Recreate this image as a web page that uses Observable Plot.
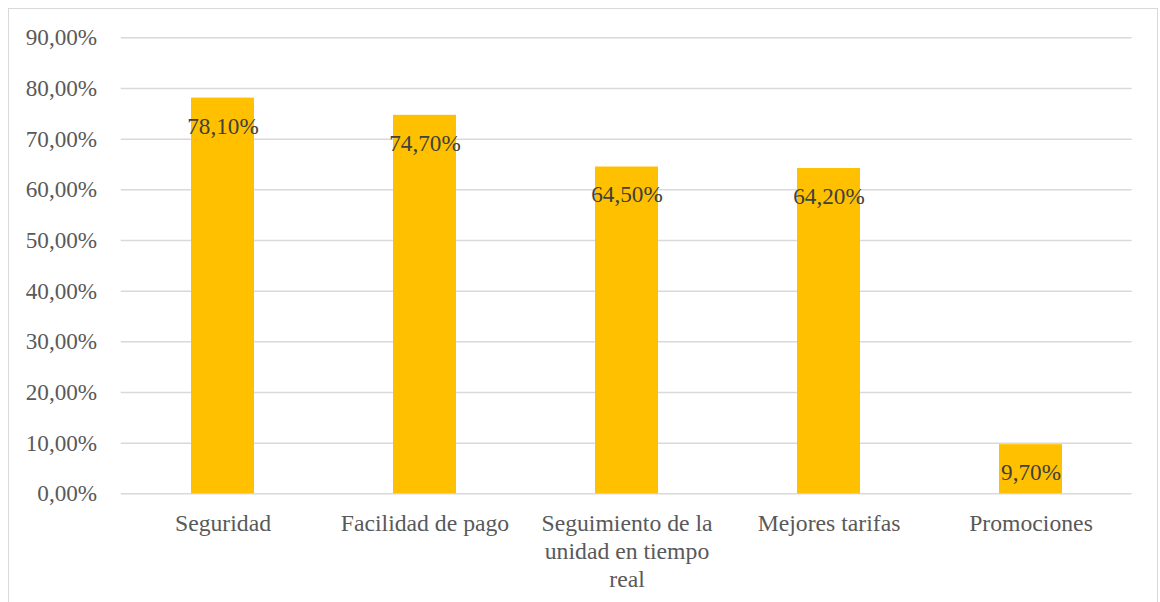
<!DOCTYPE html>
<html>
<head>
<meta charset="utf-8">
<script src="https://cdn.jsdelivr.net/npm/d3@7"></script>
<script src="https://cdn.jsdelivr.net/npm/@observablehq/plot@0.6"></script>
<style>
  html, body { margin: 0; padding: 0; background: #fff; }
  #wrap { position: relative; width: 1160px; height: 602px; overflow: hidden; }
  #border { position: absolute; left: 8px; top: 8px; width: 1150px; height: 620px; border: 1px solid #d9d9d9; box-sizing: border-box; }
  #chart { position: absolute; left: 0; top: 0; }
  #chart svg, #chart svg text { font-family: "Liberation Serif", "Times New Roman", "DejaVu Serif", serif !important; }
</style>
</head>
<body>
<div id="wrap"><div id="border"></div><div id="chart"></div></div>
<script>
const categories = ["Seguridad", "Facilidad de pago", "Seguimiento de la unidad en tiempo real", "Mejores tarifas", "Promociones"];
const tickLabels = ["Seguridad", "Facilidad de pago", "Seguimiento de la\nunidad en tiempo\nreal", "Mejores tarifas", "Promociones"];
const values = [0.781, 0.747, 0.645, 0.642, 0.097];
const yTicks = [0, 0.1, 0.2, 0.3, 0.4, 0.5, 0.6, 0.7, 0.8, 0.9];

const data = categories.map((c, i) => ({category: c, value: values[i]}));
const fmt = d => (d * 100).toFixed(2).replace(".", ",") + "%";
const labelOf = new Map(categories.map((c, i) => [c, tickLabels[i]]));

const chart = Plot.plot({
  width: 1160,
  height: 602,
  marginLeft: 120.7,
  marginRight: 28.3,
  marginTop: 37.3,
  marginBottom: 108.7,
  style: {fontFamily: "Liberation Serif, serif", fontSize: "23px", color: "#595959", background: "transparent"},
  x: {domain: categories, paddingInner: 0.687, paddingOuter: 0.3435},
  y: {domain: [0, 0.9]},
  marks: [
    Plot.ruleY(yTicks, {stroke: "#d9d9d9", strokeWidth: 1.5}),
    Plot.barY(data, {x: "category", y: "value", fill: "#FFC000"}),
    Plot.text(data, {x: "category", y: "value", text: d => fmt(d.value), dy: 28, fill: "#404040", fontSize: 23.2}),
    Plot.axisY(yTicks, {tickSize: 0, tickPadding: 24, tickFormat: fmt, fontSize: 23.2, label: null}),
    Plot.axisX({tickSize: 0, tickPadding: 17.5, tickFormat: d => labelOf.get(d), fontSize: 23.7, lineHeight: 1.18, label: null})
  ]
});
document.getElementById("chart").appendChild(chart);
</script>
</body>
</html>
